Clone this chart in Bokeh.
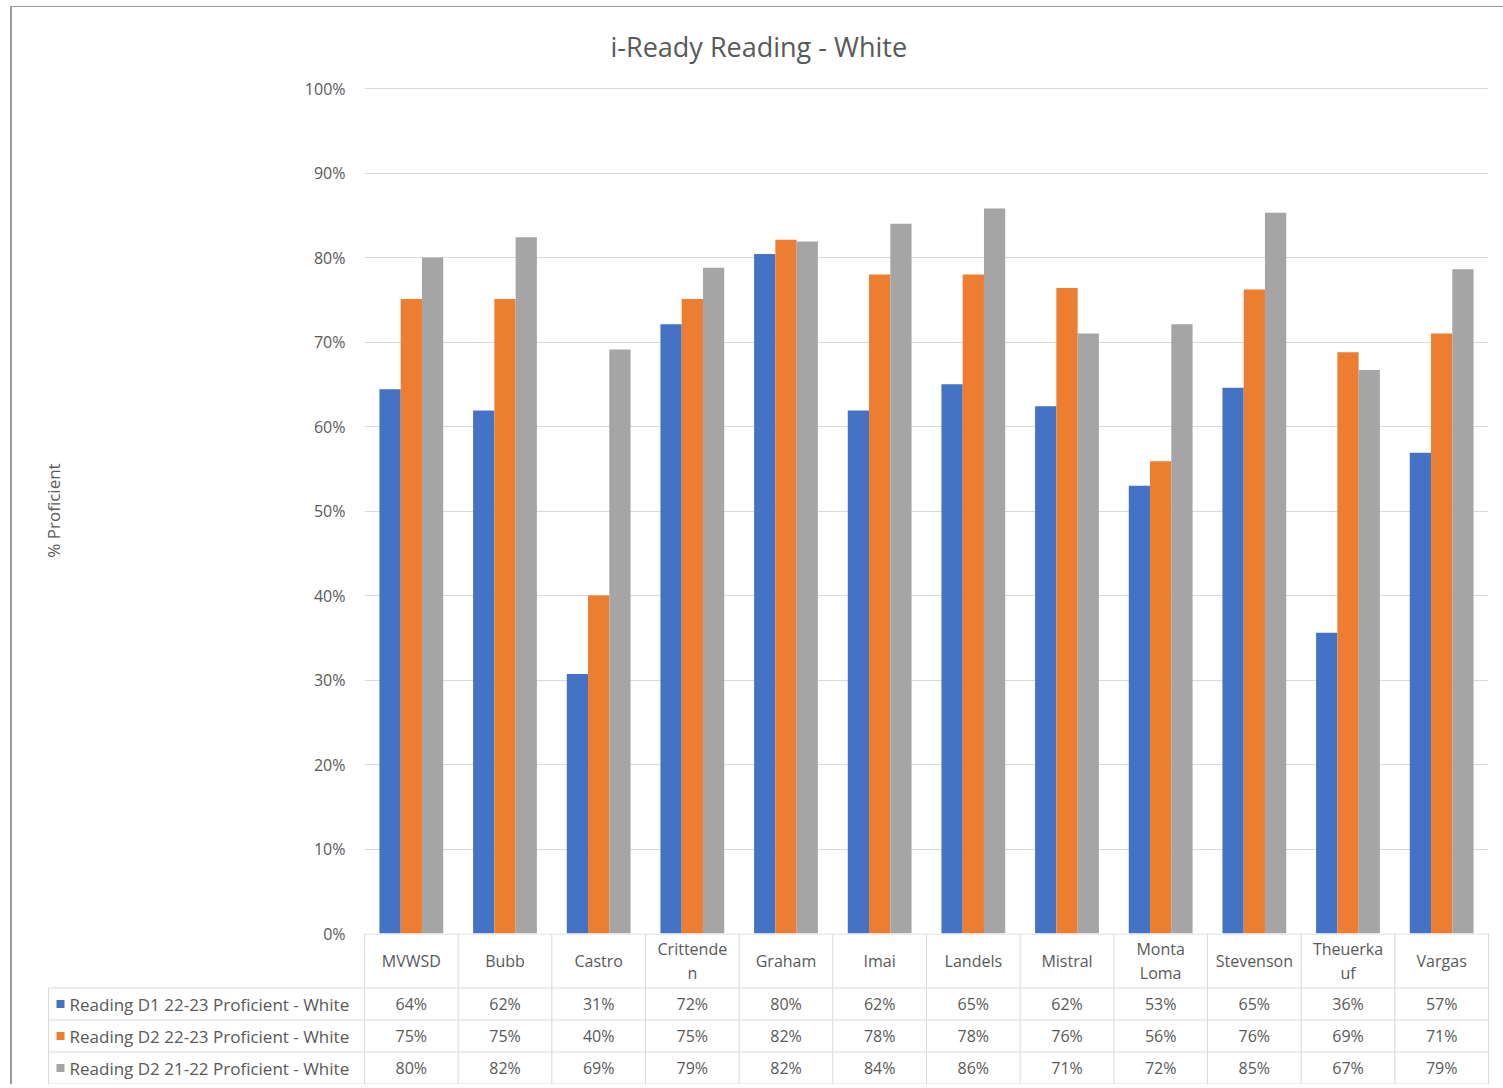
from bokeh.plotting import figure
from bokeh.models import (ColumnDataSource, FactorRange, Range1d, FixedTicker,
                          Title, PrintfTickFormatter)
from bokeh.transform import dodge
from bokeh.embed import file_html
from bokeh.resources import INLINE
from bokeh.core.properties import value

# ---------------- data ----------------
schools = ["MVWSD", "Bubb", "Castro", "Crittenden", "Graham", "Imai", "Landels",
           "Mistral", "Monta Loma", "Stevenson", "Theuerkauf", "Vargas"]
header_labels = ["MVWSD", "Bubb", "Castro", "Crittende\nn", "Graham", "Imai", "Landels",
                 "Mistral", "Monta\nLoma", "Stevenson", "Theuerka\nuf", "Vargas"]
series_names = ["Reading D1 22-23 Proficient - White",
                "Reading D2 22-23 Proficient - White",
                "Reading D2 21-22 Proficient - White"]
d1_2223 = [64.4, 61.9, 30.7, 72.1, 80.4, 61.9, 65.0, 62.4, 53.0, 64.6, 35.6, 56.9]
d2_2223 = [75.1, 75.1, 40.0, 75.1, 82.1, 78.0, 78.0, 76.4, 55.9, 76.2, 68.8, 71.0]
d2_2122 = [80.0, 82.4, 69.1, 78.8, 81.9, 84.0, 85.8, 71.0, 72.1, 85.3, 66.7, 78.6]
y_ticks = [0, 10, 20, 30, 40, 50, 60, 70, 80, 90, 100]

# ---------------- style ----------------
colors = ["#4472C4", "#ED7D31", "#A5A5A5"]
FONT = "Open Sans"
TXT = "#595959"
GRID = "#d9d9d9"
BORDER = "#9a9a9a"

PAGE_W = 1503
FRAME_L = 364            # frame left (px)
FRAME_W = 1124
FRAME_T = 87
PX_PER_PCT = 8.45
FRAME_H = 846
OVERLAP = 14             # room below the chart frame for the 0% tick label
PX = FRAME_W / len(schools)   # px per category

series = [d1_2223, d2_2223, d2_2122]

def frame_css(top):
    lines = ["linear-gradient(%s,%s) 10px %dpx / 2px 100%% no-repeat" % (BORDER, BORDER, top)]
    if top > 0:
        lines.append("linear-gradient(%s,%s) 10px %dpx / 100%% 1px no-repeat" % (BORDER, BORDER, top))
    return ", ".join(lines)

# ---------------- chart ----------------
src = ColumnDataSource(dict(school=schools, s0=d1_2223, s1=d2_2223, s2=d2_2122))

p = figure(x_range=FactorRange(factors=schools, range_padding=0),
           y_range=Range1d(0, FRAME_H / PX_PER_PCT),
           width=PAGE_W, height=FRAME_T + FRAME_H + OVERLAP,
           min_border_left=FRAME_L, min_border_right=PAGE_W - FRAME_L - FRAME_W,
           min_border_top=FRAME_T, min_border_bottom=OVERLAP,
           x_axis_location=None, title=None,
           output_backend="svg", toolbar_location=None,
           styles={"background": frame_css(6)})
p.outline_line_color = None
p.background_fill_color = "white"
p.border_fill_color = None

bw = 0.227
offsets = [-bw, 0.0, bw]
for k in range(3):
    p.vbar(x=dodge("school", offsets[k], range=p.x_range), top="s%d" % k, width=bw,
           source=src, fill_color=colors[k], line_color=None)

p.xgrid.grid_line_color = None
p.ygrid.grid_line_color = GRID
p.ygrid.grid_line_width = 1

ya = p.yaxis[0]
ya.ticker = FixedTicker(ticks=y_ticks)
ya.formatter = PrintfTickFormatter(format="%d%%")
ya.major_tick_line_color = None
ya.minor_tick_line_color = None
ya.axis_line_color = None
ya.major_label_text_color = TXT
ya.major_label_text_font = FONT
ya.major_label_text_font_size = "16px"
ya.major_label_standoff = 13
ya.axis_label = "% Proficient"
ya.axis_label_text_font = FONT
ya.axis_label_text_font_size = "17px"
ya.axis_label_text_font_style = "normal"
ya.axis_label_text_color = TXT
ya.axis_label_standoff = 237

p.add_layout(Title(text="i-Ready Reading - White", align="left", offset=246,
                   standoff=46, text_font=FONT, text_font_size="27px",
                   text_font_style="normal", text_color=TXT), "above")

# ---------------- data table ----------------
TBL_L = 316              # table left edge, px left of the category area
PAD = 2
HDR = 54
ROW = 32
tbl_h = HDR + ROW * 3
x_left = -TBL_L / PX
n = len(schools)

q = figure(x_range=Range1d(-(TBL_L + PAD) / PX, n + PAD / PX),
           y_range=Range1d(tbl_h + 0.5, -0.5),
           width=PAGE_W, height=tbl_h + 1,
           min_border_left=FRAME_L - TBL_L - PAD,
           min_border_right=PAGE_W - FRAME_L - FRAME_W - PAD,
           min_border_top=0, min_border_bottom=0,
           x_axis_location=None, y_axis_location=None, title=None,
           output_backend="svg", toolbar_location=None,
           styles={"background": frame_css(0), "margin-top": "-%dpx" % OVERLAP})
q.outline_line_color = None
q.grid.visible = False
q.background_fill_color = None
q.border_fill_color = None

row_bounds = [HDR + ROW * i for i in range(4)]
# horizontal lines
hx0 = [0] + [x_left] * 4
hx1 = [n] * 5
hy = [0] + row_bounds
q.segment(x0=hx0, x1=hx1, y0=hy, y1=hy, line_color=GRID, line_width=1)
# vertical lines
vx = list(range(n + 1)) + [x_left]
vy0 = [0] * (n + 1) + [HDR]
vy1 = [tbl_h] * (n + 2)
q.segment(x0=vx, x1=vx, y0=vy0, y1=vy1, line_color=GRID, line_width=1)

# header labels
q.text(x=[i + 0.5 for i in range(n)], y=[HDR / 2] * n, text=header_labels,
       text_align="center", text_baseline="middle", text_font=value(FONT),
       text_font_size="16px", text_color=TXT, text_line_height=1.05)

# values
tx, ty, tt = [], [], []
for k, s in enumerate(series):
    for i, v in enumerate(s):
        tx.append(i + 0.5)
        ty.append(HDR + ROW * k + ROW / 2)
        tt.append("%d%%" % int(v + 0.5))
q.text(x=tx, y=ty, text=tt, text_align="center", text_baseline="middle",
       text_font=value(FONT), text_font_size="16px", text_color=TXT)

# legend keys + series names
ry = [HDR + ROW * k + ROW / 2 for k in range(3)]
q.scatter(x=[(-TBL_L + 12) / PX] * 3, y=ry, marker="square", size=8,
          fill_color=colors, line_color=None)
q.text(x=[(-TBL_L + 21) / PX] * 3, y=ry, text=series_names, text_align="left",
       text_baseline="middle", text_font=value(FONT), text_font_size="17px",
       text_color=TXT)

open("out.html", "w").write(file_html([p, q], INLINE))
